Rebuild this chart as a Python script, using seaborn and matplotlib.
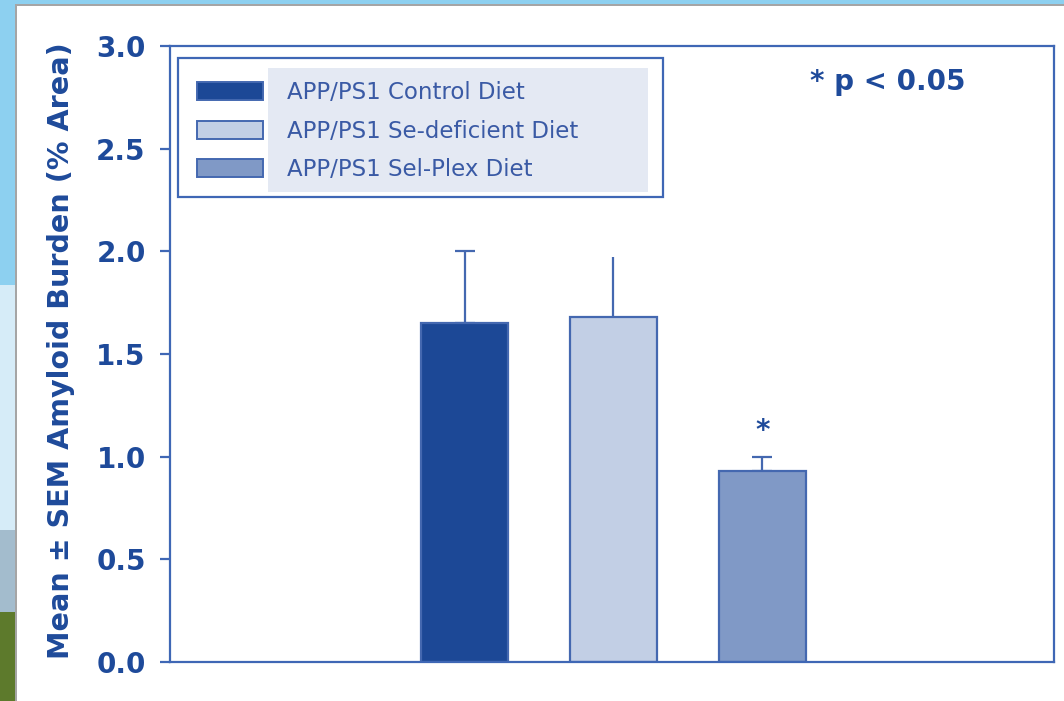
import matplotlib
matplotlib.use("Agg")
import matplotlib.pyplot as plt
from matplotlib.patches import Rectangle, Patch
import numpy as np
import pandas as pd
import seaborn as sns

# Amyloid burden per diet group (mean and SEM, % area)
groups = ["APP/PS1 Control Diet", "APP/PS1 Se-deficient Diet", "APP/PS1 Sel-Plex Diet"]
means = [1.65, 1.68, 0.93]
sems = [0.35, 0.29, 0.07]
has_cap = [True, False, True]
significant = [False, False, True]
y_ticks = [0.0, 0.5, 1.0, 1.5, 2.0, 2.5, 3.0]

fill_colors = ["#1c4896", "#c2cfe5", "#8099c6"]
edge_blue = "#4468b0"
axis_blue = "#3f67b5"
text_blue = "#1e4a9a"
legend_text_blue = "#3a5aa5"

df = pd.DataFrame({"group": groups, "mean": means, "sem": sems})

sns.set_theme(style="white")
plt.rcParams["font.family"] = ["DejaVu Sans"]

fig = plt.figure(figsize=(10.64, 7.01), dpi=100, facecolor="white")

# slide backdrop: sky strip on top and left, grass at lower left
W, H = 1064, 701
def fig_rect(x0, y0, x1, y1, color, z=0):
    fig.patches.append(Rectangle((x0 / W, 1 - y1 / H), (x1 - x0) / W, (y1 - y0) / H,
                                 transform=fig.transFigure, facecolor=color,
                                 edgecolor="none", zorder=z))
fig_rect(0, 0, W, 4, "#8dd0f0")
fig_rect(0, 0, 15, 285, "#8dd0f0")
fig_rect(0, 285, 15, 530, "#d6ecf8")
fig_rect(0, 530, 15, 612, "#a3bccd")
fig_rect(0, 612, 15, H, "#5d7a2c")
fig_rect(15, 4, W, 5.5, "#a5a5a5", 1)
fig_rect(15, 4, 16.5, H, "#a5a5a5", 1)

ax = fig.add_axes([170 / W, 1 - 662 / H, 884 / W, 616 / H])
ax.set_facecolor("white")

sns.barplot(data=df, x="group", y="mean", hue="group", order=groups,
            hue_order=groups, palette=fill_colors, width=0.585,
            errorbar=None, legend=False, saturation=1, ax=ax,
            edgecolor=edge_blue, linewidth=1.6, zorder=2)

centers = [p.get_x() + p.get_width() / 2 for p in ax.patches]
for xc, m, s, cap, sig in zip(centers, means, sems, has_cap, significant):
    ax.errorbar([xc], [m], yerr=[[0], [s]], fmt="none", ecolor=edge_blue,
                elinewidth=1.6, capsize=7 if cap else 0, capthick=1.6, zorder=1)
    if sig:
        ax.annotate("*", xy=(xc, m + s), xytext=(0, 13), textcoords="offset points",
                    ha="center", va="baseline", fontsize=20, fontweight="bold",
                    color=text_blue)

ax.set_xlim(-1.98, 3.96)
ax.set_ylim(0, 3.0)
ax.set_yticks(y_ticks)
ax.set_yticklabels([f"{t:.1f}" for t in y_ticks])
ax.set_xticks([])
ax.set_xlabel("")
ax.set_ylabel("Mean \u00b1 SEM Amyloid Burden (% Area)", fontsize=20.6,
              fontweight="bold", color=text_blue)
ax.yaxis.set_label_coords(-0.107, 0.505)

for side in ["left", "right", "top", "bottom"]:
    ax.spines[side].set_visible(True)
    ax.spines[side].set_color(axis_blue)
    ax.spines[side].set_linewidth(1.6)

ax.tick_params(axis="y", direction="out", length=7.5, width=1.6, color=axis_blue,
               labelsize=20, labelcolor=text_blue, pad=10, left=True)
for lab in ax.get_yticklabels():
    lab.set_fontweight("bold")

# legend box with a shaded label panel
ax.add_patch(Rectangle((0.009, 0.7549), 0.549, 0.2256, transform=ax.transAxes,
                       facecolor="white", edgecolor=axis_blue, linewidth=1.6,
                       zorder=3))
ax.add_patch(Rectangle((0.1109, 0.763), 0.4298, 0.2013, transform=ax.transAxes,
                       facecolor="#e4e9f3", edgecolor="none", zorder=3.5))
handles = [Patch(facecolor=c, edgecolor=edge_blue, linewidth=1.4) for c in fill_colors]
leg = ax.legend(handles, groups, loc="upper left", bbox_to_anchor=(0.0305, 0.9425),
                frameon=False, fontsize=16.5, handlelength=2.88, handleheight=0.83,
                handletextpad=1.05, labelspacing=0.66, borderpad=0, borderaxespad=0)
leg.set_zorder(5)
for t in leg.get_texts():
    t.set_color(legend_text_blue)

ax.text(0.724, 0.9416, "* p < 0.05", transform=ax.transAxes, ha="left",
        va="center", fontsize=20, fontweight="bold", color=text_blue)

fig.savefig("out.png", dpi=100, facecolor=fig.get_facecolor())
